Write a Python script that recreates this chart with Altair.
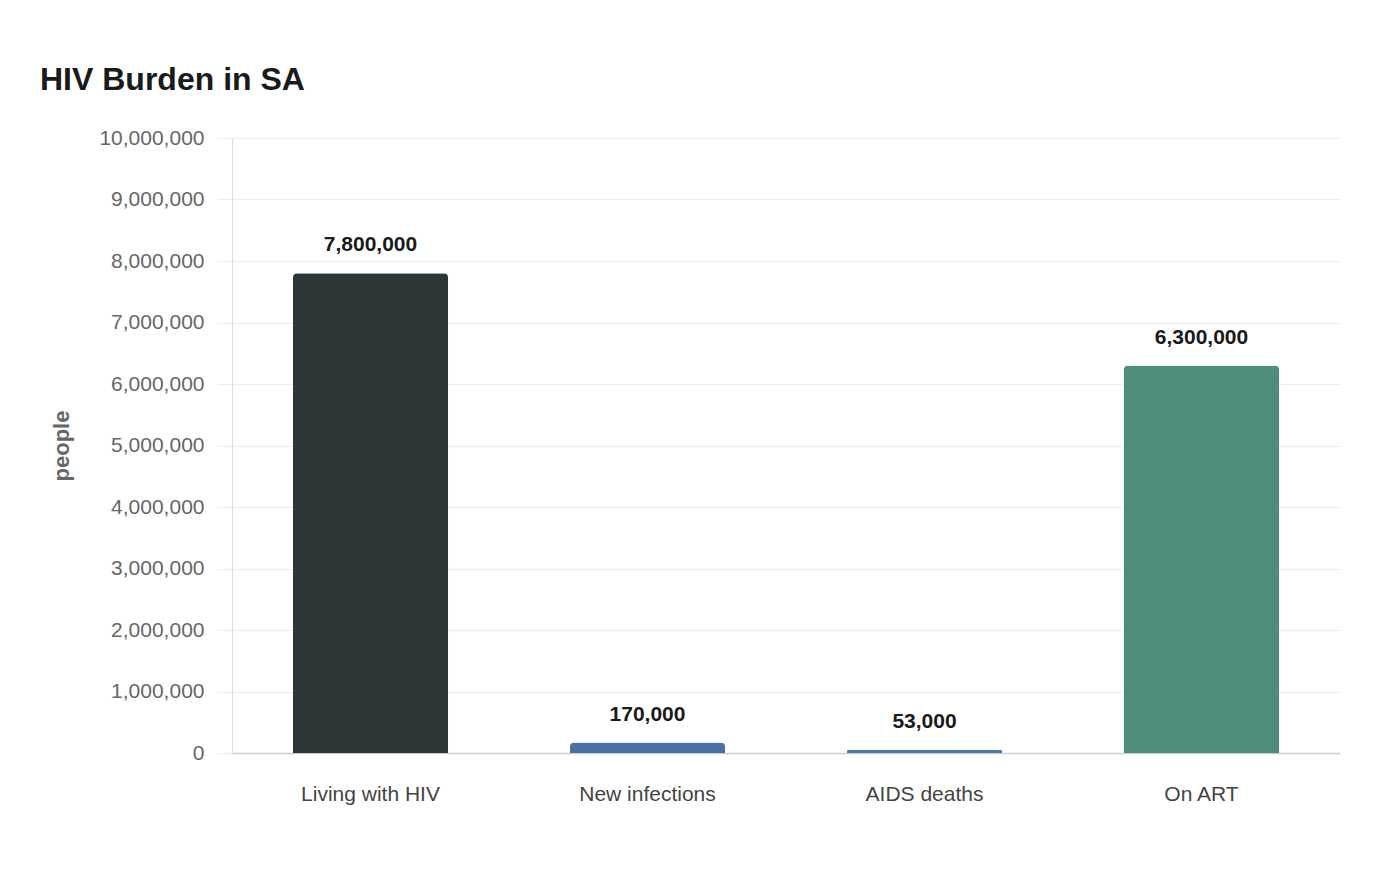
import altair as alt
import pandas as pd

# HIV burden figures for South Africa
categories = ["Living with HIV", "New infections", "AIDS deaths", "On ART"]
people = [7800000, 170000, 53000, 6300000]
bar_colors = ["#2d3537", "#4a6fa5", "#4a78aa", "#4e8c7b"]
y_ticks = [0, 1000000, 2000000, 3000000, 4000000, 5000000,
           6000000, 7000000, 8000000, 9000000, 10000000]

df = pd.DataFrame({"category": categories, "people": people})

FONT = "Liberation Sans"

x_enc = alt.X(
    "category:N",
    sort=categories,
    title=None,
    scale=alt.Scale(paddingInner=0.44, paddingOuter=0.22),
    axis=alt.Axis(
        labelAngle=0,
        labelFont=FONT,
        labelFontSize=21,
        labelColor="#444444",
        labelPadding=30,
        ticks=False,
        domainColor="#cccccc",
        domainWidth=1.5,
        grid=False,
    ),
)

y_enc = alt.Y(
    "people:Q",
    title="people",
    scale=alt.Scale(domain=[0, 10000000], nice=False),
    axis=alt.Axis(
        values=y_ticks,
        format=",.0f",
        labelFont=FONT,
        labelFontSize=21,
        labelColor="#666666",
        labelPadding=13,
        tickSize=15,
        tickColor="#eeeeee",
        gridColor="#eeeeee",
        domainColor="#dddddd",
        titleFont=FONT,
        titleFontSize=22,
        titleFontWeight="bold",
        titleColor="#666666",
        titlePadding=25,
    ),
)

bars = alt.Chart(df).mark_bar(
    cornerRadiusTopLeft=4, cornerRadiusTopRight=4
).encode(
    x=x_enc,
    y=y_enc,
    color=alt.Color(
        "category:N",
        scale=alt.Scale(domain=categories, range=bar_colors),
        legend=None,
    ),
)

labels = alt.Chart(df).mark_text(
    font=FONT, fontSize=21, fontWeight="bold", color="#1a1a1a",
    baseline="alphabetic", dy=-22,
).encode(
    x=alt.X("category:N", sort=categories),
    y=alt.Y("people:Q"),
    text=alt.Text("people:Q", format=",.0f"),
)

chart = alt.layer(bars, labels).properties(
    width=1108,
    height=615,
    title=alt.TitleParams(
        "HIV Burden in SA",
        anchor="start",
        frame="group",
        font=FONT,
        fontSize=32,
        fontWeight="bold",
        color="#1a1a1a",
        dx=-192,
        offset=30,
    ),
    autosize=alt.AutoSizeParams(type="none"),
    padding={"left": 232, "top": 138, "right": 60, "bottom": 127},
).configure(background="white").configure_view(stroke=None)

chart.save("out.html", embed_options={"renderer": "svg", "actions": False})
